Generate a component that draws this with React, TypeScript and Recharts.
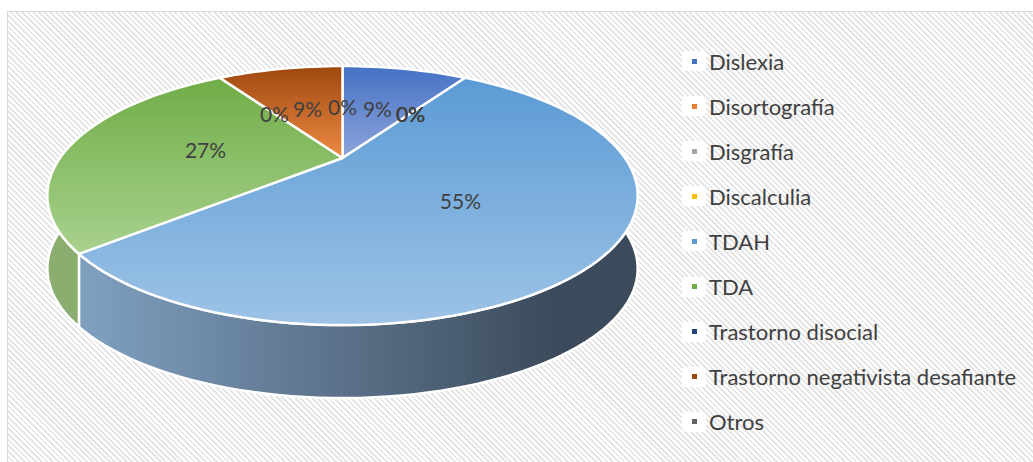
import React from "react";
import { PieChart, Pie, Cell, Legend } from "recharts";

// student counts per diagnosis (11 in total)
const categories = [
  "Dislexia",
  "Disortografía",
  "Disgrafía",
  "Discalculia",
  "TDAH",
  "TDA",
  "Trastorno disocial",
  "Trastorno negativista desafiante",
  "Otros",
];
const counts = [1, 0, 0, 0, 6, 3, 0, 1, 0];

const legendColors = ["#4472C4", "#ED7D31", "#A5A5A5", "#FFC000", "#5B9BD5", "#70AD47", "#264478", "#9E480E", "#636363"];
const topShade = ["#8EA4DA", "#F4B183", "#C9C9C9", "#FFD966", "#9DC3E6", "#A9D18E", "#5A7AB5", "#EE8A45", "#8F8F8F"];
const sideLight = ["#7F93C4", "#D08D5E", "#A8A8A8", "#D9B04A", "#7F9FBF", "#8CAD70", "#4E6690", "#A86A40", "#7A7A7A"];
const sideDark = ["#2E4573", "#7A4020", "#555555", "#7A5E10", "#3C4B5C", "#4B6635", "#1A2E50", "#5A2A08", "#3A3A3A"];

const pieData = categories.map((name, i) => ({ name, value: counts[i] }));

// fake 3D: tilt + a bit of perspective, side wall depth in px
const TILT = 0.42;
const PERSP = 0.29;
const DEPTH = 73;
const FONT = "Lato, 'Noto Sans', sans-serif";

function project(cx: number, cy: number, r: number, R: number, deg: number) {
  const a = (deg * Math.PI) / 180;
  const u = (r / R) * Math.cos(a);
  const v = (r / R) * Math.sin(a);
  const s = 1 / (1 + PERSP * v);
  return [cx + R * u * s, cy - R * TILT * v * s];
}

function arc(cx: number, cy: number, R: number, from: number, to: number) {
  const steps = Math.max(2, Math.ceil(Math.abs(to - from) / 2));
  const pts: number[][] = [];
  for (let k = 0; k <= steps; k++) {
    pts.push(project(cx, cy, R, R, from + ((to - from) * k) / steps));
  }
  return pts;
}

const TopFace = (props: any) => {
  const { cx, cy, outerRadius, startAngle, endAngle, name } = props;
  if (Math.abs(startAngle - endAngle) < 0.01) return <g />;
  const i = categories.indexOf(name);
  const pts = arc(cx, cy, outerRadius, startAngle, endAngle);
  const d = `M${cx},${cy} L` + pts.map((p) => `${p[0]},${p[1]}`).join(" L") + " Z";
  const id = `top-${i}`;
  return (
    <g>
      <defs>
        <linearGradient id={id} x1="0" y1="0" x2="0" y2="1">
          <stop offset="0%" stopColor={legendColors[i]} />
          <stop offset="100%" stopColor={topShade[i]} />
        </linearGradient>
      </defs>
      <path d={d} fill={`url(#${id})`} stroke="#fff" strokeWidth={2.5} strokeLinejoin="round" />
    </g>
  );
};

const SideWall = (props: any) => {
  const { cx, cy, outerRadius, startAngle, endAngle, name } = props;
  // only the front half of the rim shows
  const lo = Math.max(endAngle, -180);
  const hi = Math.min(startAngle, 0);
  if (hi - lo < 0.01) return <g />;
  const i = categories.indexOf(name);
  const top = arc(cx, cy, outerRadius, hi, lo);
  const bottom = top.map((p) => [p[0], p[1] + DEPTH]).reverse();
  const d =
    "M" + top.concat(bottom).map((p) => `${p[0]},${p[1]}`).join(" L") + " Z";
  const id = `side-${i}`;
  return (
    <g>
      <defs>
        <linearGradient
          id={id}
          gradientUnits="userSpaceOnUse"
          x1={cx - outerRadius * 0.9}
          y1={0}
          x2={cx + outerRadius * 0.75}
          y2={0}
        >
          <stop offset="0%" stopColor={sideLight[i]} />
          <stop offset="100%" stopColor={sideDark[i]} />
        </linearGradient>
      </defs>
      <path d={d} fill={`url(#${id})`} stroke="#fff" strokeWidth={2.5} strokeLinejoin="round" />
    </g>
  );
};

const renderLabel = (props: any) => {
  const { cx, cy, midAngle, outerRadius, percent } = props;
  const [x, y] = project(cx, cy, outerRadius * 0.5, outerRadius, midAngle);
  return (
    <text
      x={x}
      y={y}
      textAnchor="middle"
      dominantBaseline="central"
      fill="#404040"
      fontSize={21}
      fontFamily={FONT}
    >
      {`${Math.round(percent * 100)}%`}
    </text>
  );
};

const renderLegend = () => (
  <div style={{ fontFamily: FONT }}>
    {categories.map((c, i) => (
      <div
        key={c}
        style={{ height: 45.1, display: "flex", alignItems: "center" }}
      >
        <span
          style={{
            width: 24,
            height: 20,
            borderRadius: 4,
            background: "#fff",
            display: "flex",
            alignItems: "center",
            justifyContent: "center",
            marginRight: 3,
          }}
        >
          <span style={{ width: 5, height: 5, background: legendColors[i] }} />
        </span>
        <span style={{ fontSize: 22, color: "#404040", whiteSpace: "nowrap" }}>{c}</span>
      </div>
    ))}
  </div>
);

export default function App() {
  return (
    <div style={{ position: "absolute", left: 0, top: 0, width: 1033, height: 462, background: "#fff" }}>
      <div
        style={{
          position: "absolute",
          left: 7,
          top: 11,
          width: 1030,
          height: 460,
          border: "1px solid #d9d9d9",
          background:
            "repeating-linear-gradient(45deg, #ffffff 0px, #ffffff 2px, #e6e6e6 2px, #e6e6e6 4px)",
        }}
      />
      <div style={{ position: "absolute", left: 0, top: 0 }}>
        <PieChart width={1033} height={462} margin={{ top: 0, right: 0, bottom: 0, left: 0 }}>
          <Pie
            data={pieData}
            dataKey="value"
            nameKey="name"
            cx={342.5}
            cy={158}
            outerRadius={282.5}
            startAngle={90}
            endAngle={-270}
            shape={SideWall}
            activeShape={SideWall}
            inactiveShape={SideWall}
            label={false}
            labelLine={false}
            isAnimationActive={false}
          >
            {pieData.map((d) => (
              <Cell key={d.name} />
            ))}
          </Pie>
          <Pie
            data={pieData}
            dataKey="value"
            nameKey="name"
            cx={342.5}
            cy={158}
            outerRadius={282.5}
            startAngle={90}
            endAngle={-270}
            shape={TopFace}
            activeShape={TopFace}
            inactiveShape={TopFace}
            label={renderLabel}
            labelLine={false}
            isAnimationActive={false}
          />
          <Legend
            layout="vertical"
            align="right"
            verticalAlign="top"
            content={renderLegend}
            wrapperStyle={{ position: "absolute", left: 682, top: 38.5, width: 350 }}
          />
        </PieChart>
      </div>
    </div>
  );
}
